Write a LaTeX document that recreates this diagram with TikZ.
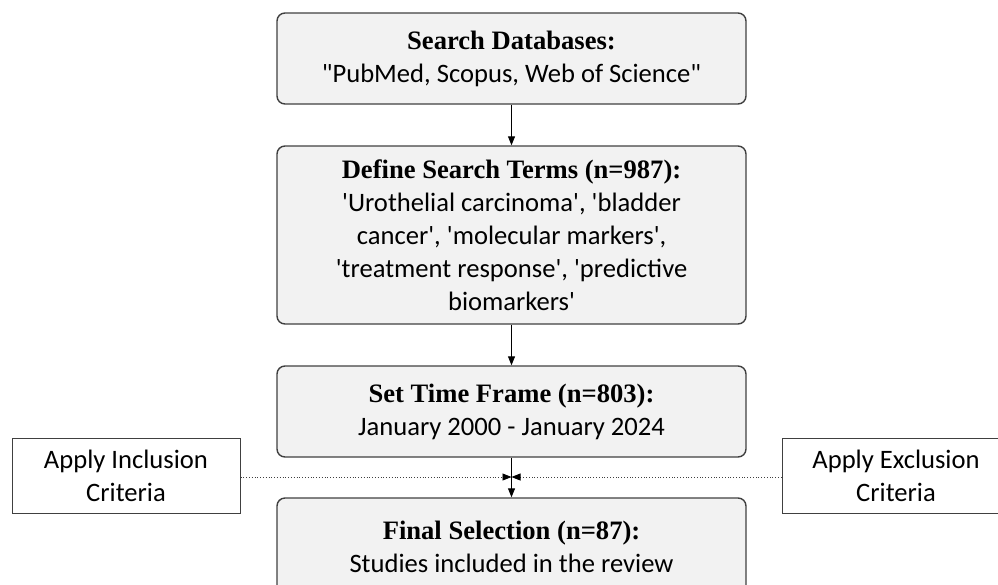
\documentclass[tikz,border=0pt]{standalone}
\usepackage{fontspec}
\usetikzlibrary{arrows.meta}
\newfontfamily\titlef{Liberation Serif}
\newfontfamily\bodyf{Carlito}
\definecolor{boxfill}{HTML}{F2F2F2}
\definecolor{boxline}{HTML}{404040}
\tikzset{
  mainbox/.style={draw=boxline, fill=boxfill, line width=1.4pt, rounded corners=8pt,
    minimum width=469pt, align=center, inner sep=0pt,
    font=\bodyf\fontsize{26.6}{33}\selectfont},
  sidebox/.style={draw=boxline, fill=white, line width=1pt,
    minimum width=228pt, minimum height=75pt, align=center, inner sep=0pt,
    font=\bodyf\fontsize{26.6}{33}\selectfont},
  flow/.style={draw=black, line width=1pt, -{Triangle[length=9pt,width=7pt]}},
  side/.style={draw=darkgray, line width=0.8pt, dotted,
    -{Triangle[length=9pt,width=7pt,color=black]}}
}
\newcommand{\ttl}[1]{{\titlef\bfseries #1}}
\begin{document}
\begin{tikzpicture}[x=1pt,y=-1pt]
\useasboundingbox (0,0) rectangle (998,584);
\clip (0,0) rectangle (998,584);
\node[mainbox, minimum height=91pt] (b1) at (511.5,58.5)
  {\ttl{Search Databases:}\\"PubMed, Scopus, Web of Science"};
\node[mainbox, minimum height=178pt] (b2) at (511.5,235)
  {\ttl{Define Search Terms (n=987):}\\'Urothelial carcinoma', 'bladder\\cancer', 'molecular markers',\\'treatment response', 'predictive\\biomarkers'};
\node[mainbox, minimum height=91pt] (b3) at (511.5,411.5)
  {\ttl{Set Time Frame (n=803):}\\January 2000 - January 2024};
\node[mainbox, minimum height=97pt] (b4) at (511.5,546.5)
  {\ttl{Final Selection (n=87):}\\Studies included in the review};
\node[sidebox] (inc) at (126,475.5) {Apply Inclusion\\Criteria};
\node[sidebox] (exc) at (896,475.5) {Apply Exclusion\\Criteria};
\coordinate (m) at (b3.south |- 0,477);
\draw[flow] (b1.south) -- (b2.north);
\draw[flow] (b2.south) -- (b3.north);
\draw[side] (inc.east |- m) -- (m);
\draw[side] (exc.west |- m) -- (m);
\draw[flow] (b3.south) -- (b4.north);
\end{tikzpicture}
\end{document}
